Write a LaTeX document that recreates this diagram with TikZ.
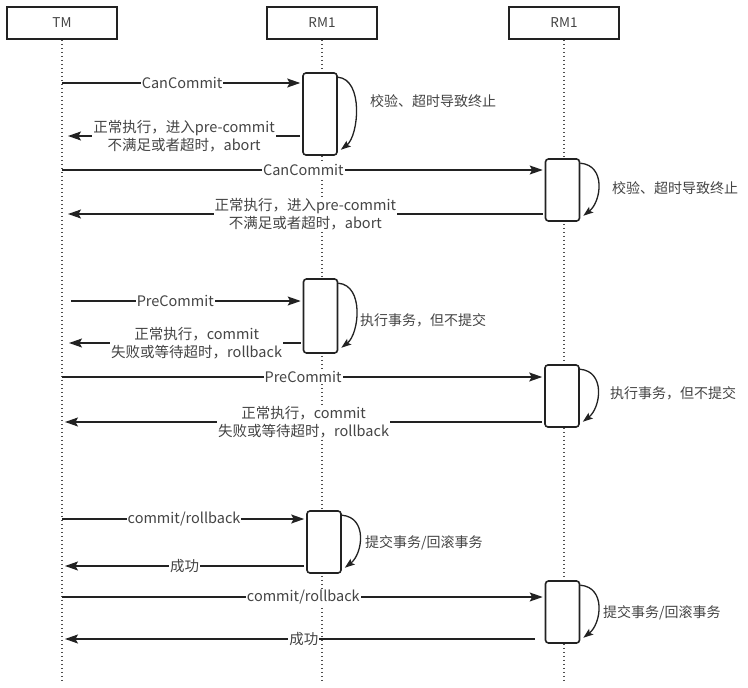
\documentclass[tikz,border=0pt]{standalone}
\usepackage{fontspec}
\setmainfont{Noto Sans CJK SC}
\usetikzlibrary{arrows.meta}
\definecolor{txt}{HTML}{444444}
\definecolor{ln}{HTML}{222222}
\begin{document}
\begin{tikzpicture}[x=1pt,y=-1pt,
  head/.style={draw=ln, line width=1.5pt, minimum width=110pt, minimum height=32pt, text=txt, font=\fontsize{13.5}{15}\selectfont, inner sep=0pt},
  life/.style={draw=ln!80, line width=1.3pt, dash pattern=on 1.3pt off 2.7pt},
  act/.style={draw=ln, fill=white, line width=1.6pt, rounded corners=3pt, minimum width=34pt, inner sep=0pt},
  msg/.style={draw=ln, line width=1.2pt, -{Stealth[length=13pt,width=9pt,inset=2.5pt]}, shorten >=2pt},
  lbl/.style={fill=white, text=txt, font=\fontsize{14.5}{18}\selectfont, inner sep=1pt, align=center},
  selfarr/.style={draw=ln, line width=1.3pt, -{Stealth[length=10pt,width=7pt,inset=2pt]}},
  note/.style={anchor=west, text=txt, font=\fontsize{14}{18}\selectfont, inner sep=0pt}
]
\useasboundingbox (0,0) rectangle (748,688);
\fill[white] (0,0) rectangle (748,688);

% headers
\node[head] (tm) at (62,23) {TM};
\node[head] (rm) at (322,23) {RM1};
\node[head] (rr) at (564,23) {RM1};

% lifelines
\coordinate (tmend) at (62,680);
\coordinate (rmend) at (322,680);
\coordinate (rrend) at (564,680);
\draw[life] (tm.south) -- (tmend);
\draw[life] (rm.south) -- (rmend);
\draw[life] (rr.south) -- (rrend);

% activation boxes
\node[act, minimum height=82pt] (b1) at (320,114) {};
\node[act, minimum height=62pt] (r1) at (562.5,190) {};
\node[act, minimum height=74pt] (b2) at (320.5,316) {};
\node[act, minimum height=62pt] (r2) at (562,396) {};
\node[act, minimum height=62pt] (b3) at (324,542) {};
\node[act, minimum height=62pt] (r3) at (562.5,612) {};

% self arrows
\foreach \b in {b1,r1,b2,r2,b3,r3}{
  \draw[selfarr] ([shift={(0,5)}]\b.north east) .. controls +(26,2) and +(18,-14) .. ([shift={(3,-6)}]\b.south east);
}

% notes
\node[note] (n1) at (370,101) {校验、超时导致终止};
\node[note] (n2) at (612,188) {校验、超时导致终止};
\node[note] (n3) at (360,320) {执行事务，但不提交};
\node[note] (n4) at (610,393) {执行事务，但不提交};
\node[note] (n5) at (365,543) {提交事务/回滚事务};
\node[note] (n6) at (603,613) {提交事务/回滚事务};

% messages
\coordinate (m1) at (62,83);
\draw[msg] (m1) -- (m1 -| b1.west) node[lbl, pos=0.5] {CanCommit};
\coordinate (m2) at (66,136);
\draw[msg, shorten <=2pt] (m2 -| b1.west) -- (m2) node[lbl, pos=0.5] {正常执行，进入pre-commit\\不满足或者超时，abort};
\coordinate (m3) at (62,170);
\draw[msg] (m3) -- (m3 -| r1.west) node[lbl, pos=0.5] {CanCommit};
\coordinate (m4) at (66,214);
\draw[msg, shorten <=2pt] (m4 -| r1.west) -- (m4) node[lbl, pos=0.5] {正常执行，进入pre-commit\\不满足或者超时，abort};

\coordinate (m5) at (71,301);
\draw[msg] (m5) -- (m5 -| b2.west) node[lbl, pos=0.45] {PreCommit};
\coordinate (m6) at (67,343);
\draw[msg, shorten <=2pt] (m6 -| b2.west) -- (m6) node[lbl, pos=0.45] {正常执行，commit\\失败或等待超时，rollback};
\coordinate (m7) at (62,377);
\draw[msg] (m7) -- (m7 -| r2.west) node[lbl, pos=0.5] {PreCommit};
\coordinate (m8) at (63,422);
\draw[msg, shorten <=2pt] (m8 -| r2.west) -- (m8) node[lbl, pos=0.5] {正常执行，commit\\失败或等待超时，rollback};

\coordinate (m9) at (62,519);
\draw[msg] (m9) -- (m9 -| b3.west) node[lbl, pos=0.5] {commit/rollback};
\coordinate (m10) at (63,566);
\draw[msg, shorten <=2pt] (m10 -| b3.west) -- (m10) node[lbl, pos=0.5] {成功};
\coordinate (m11) at (62,597);
\draw[msg] (m11) -- (m11 -| r3.west) node[lbl, pos=0.5] {commit/rollback};
\coordinate (m12) at (63,639);
\draw[msg, shorten <=10pt] (m12 -| r3.west) -- (m12) node[lbl, pos=0.5] {成功};
\end{tikzpicture}
\end{document}
